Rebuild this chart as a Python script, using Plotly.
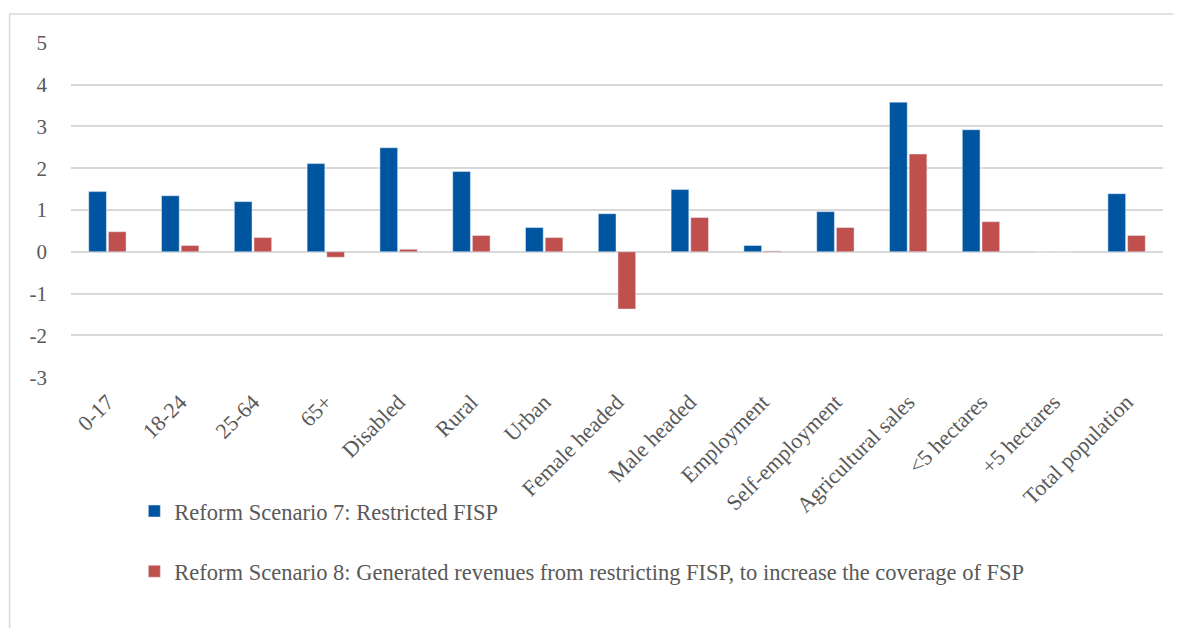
import plotly.graph_objects as go

categories = ["0-17", "18-24", "25-64", "65+", "Disabled", "Rural", "Urban",
              "Female headed", "Male headed", "Employment", "Self-employment",
              "Agricultural sales", "<5 hectares", "+5 hectares", "Total population"]
scenario7 = [1.44, 1.34, 1.20, 2.11, 2.49, 1.92, 0.58, 0.91, 1.49, 0.15, 0.96, 3.58, 2.92, 0.0, 1.39]
scenario8 = [0.48, 0.15, 0.34, -0.13, 0.06, 0.39, 0.34, -1.37, 0.82, 0.02, 0.58, 2.34, 0.72, 0.0, 0.39]
name7 = "Reform Scenario 7: Restricted FISP"
name8 = "Reform Scenario 8: Generated revenues from restricting FISP, to increase the coverage of FSP"
y_ticks = [-3, -2, -1, 0, 1, 2, 3, 4, 5]
y_labels = ["-3", "-2", "-1", "0", "1", "2", "3", "4", "5"]

FONT = "Liberation Serif"
GREY = "#595959"

W, H = 1173, 620
L, R, T, B = 63, 18, 34, 250
PW, PH = W - L - R, H - T - B

fig = go.Figure()
fig.add_trace(go.Bar(x=categories, y=scenario7, name=name7, marker_color="#0055a0",
                     legendgroup="a"))
fig.add_trace(go.Bar(x=categories, y=scenario8, name=name8, marker_color="#c0504d",
                     legendgroup="b"))

fig.update_layout(
    width=W, height=H,
    paper_bgcolor="white", plot_bgcolor="white",
    margin=dict(l=L, r=R, t=T, b=B),
    barmode="group", bargap=0.46, bargroupgap=0.1,
    font=dict(family=FONT, color=GREY, size=20),
    showlegend=True,
    legend=dict(orientation="v", x=0.058, xanchor="left", y=-0.333, yanchor="top",
                font=dict(family=FONT, size=22.5, color=GREY),
                traceorder="grouped", tracegroupgap=28, itemwidth=30,
                bgcolor="rgba(0,0,0,0)"),
    xaxis=dict(tickangle=-45, tickfont=dict(family=FONT, size=22, color=GREY),
               showgrid=False, showline=False, ticks="", ticklabelstandoff=6),
    yaxis=dict(range=[-3.02, 5.02], tickvals=y_ticks, ticktext=y_labels,
               showgrid=True, gridcolor="#d9d9d9",
               gridwidth=1.5, zeroline=True, zerolinecolor="#d9d9d9", zerolinewidth=1.5,
               tickfont=dict(family=FONT, size=21, color=GREY), ticks="",
               ticklabelstandoff=23),
)

# outer chart border (pixel positions converted to paper coordinates)
fig.add_shape(type="rect", xref="paper", yref="paper",
              x0=(1.6 - L) / PW, x1=(1220 - L) / PW,
              y0=(T + PH - 700) / PH, y1=(T + PH - 6) / PH,
              line=dict(color="#d9d9d9", width=1.5), fillcolor="rgba(0,0,0,0)", layer="below")

fig.write_html("out.html")
